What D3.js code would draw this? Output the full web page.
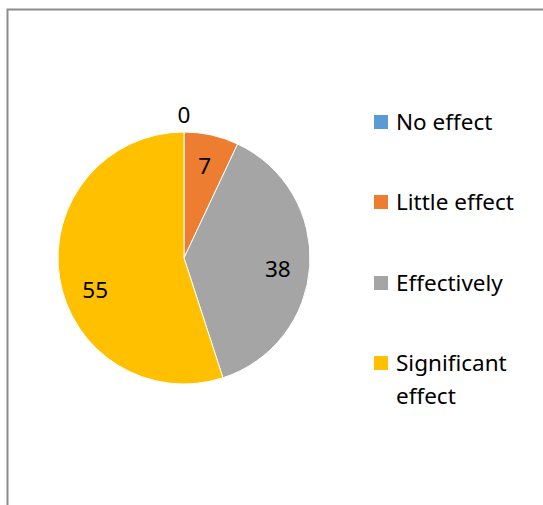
<!DOCTYPE html>
<html>
<head>
<meta charset="utf-8">
<script src="https://cdn.jsdelivr.net/npm/d3@7"></script>
<style>
  body { margin: 0; background: #fff; }
  text { font-family: "Noto Sans", "Open Sans", sans-serif; }
</style>
</head>
<body>
<div id="chart"></div>
<script>
const categories = ["No effect", "Little effect", "Effectively", "Significant effect"];
const values = [0, 7, 38, 55];
const colors = ["#5B9BD5", "#ED7D31", "#A5A5A5", "#FFC000"];

const width = 543, height = 505;
const cx = 184, cy = 258, radius = 126;
const fontSize = "22.5px";

const svg = d3.select("#chart").append("svg")
    .attr("width", width)
    .attr("height", height);

// chart area border (runs off right and bottom)
svg.append("path")
    .attr("d", `M7.5,${height + 2}V9.5H${width + 2}`)
    .attr("fill", "none")
    .attr("stroke", "#8c8c8c")
    .attr("stroke-width", 2);

const data = categories.map((c, i) => ({ name: c, value: values[i], color: colors[i] }));

const pie = d3.pie().value(d => d.value).sort(null);
const arcs = pie(data);
const arc = d3.arc().innerRadius(0).outerRadius(radius);

const g = svg.append("g").attr("transform", `translate(${cx},${cy})`);

g.selectAll("path.slice")
    .data(arcs)
    .join("path")
    .attr("class", "slice")
    .attr("d", arc)
    .attr("fill", d => d.data.color)
    .attr("stroke", "#fff")
    .attr("stroke-width", 1);

// labels: inside for non-zero slices, outside for the empty slice
const outer = d3.arc().innerRadius(radius * 1.13).outerRadius(radius * 1.13);

function labelPos(d) {
    if (d.value === 0) return outer.centroid(d);
    const span = d.endAngle - d.startAngle;
    // Excel's "best fit" drifts a little off the mid angle on wide slices
    const shift = span > Math.PI ? -span * 0.055 : span > Math.PI / 2 ? span * 0.025 : 0;
    const a = (d.startAngle + d.endAngle) / 2 + shift;
    const r = radius * 0.75;
    return [r * Math.sin(a), -r * Math.cos(a)];
}

g.selectAll("text.lbl")
    .data(arcs)
    .join("text")
    .attr("class", "lbl")
    .attr("transform", d => `translate(${labelPos(d)})`)
    .attr("text-anchor", "middle")
    .attr("dy", "0.35em")
    .attr("font-size", fontSize)
    .attr("fill", "#000")
    .text(d => d.value);

// legend
const legendY = [122, 202, 283, 363];
const legend = svg.append("g");
data.forEach((d, i) => {
    legend.append("rect")
        .attr("x", 374).attr("y", legendY[i] - 7)
        .attr("width", 14).attr("height", 14)
        .attr("fill", d.color);
    const words = d.name === "Significant effect" ? ["Significant", "effect"] : [d.name];
    const t = legend.append("text")
        .attr("x", 396).attr("y", legendY[i])
        .attr("font-size", fontSize)
        .attr("fill", "#000");
    words.forEach((w, j) => {
        t.append("tspan")
            .attr("x", 396)
            .attr("dy", j === 0 ? "0.35em" : "1.45em")
            .text(w);
    });
});
</script>
</body>
</html>
